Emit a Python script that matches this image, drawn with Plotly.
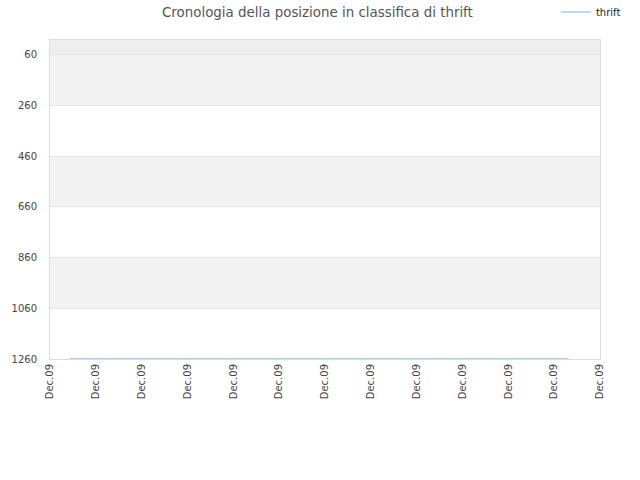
import plotly.graph_objects as go

# daily rank history of "thrift" (all in December 2009)
dates = ['2009-12-01 10:30', '2009-12-03 12:00', '2009-12-05 12:00',
         '2009-12-07 12:00', '2009-12-09 12:00', '2009-12-11 12:00',
         '2009-12-12 07:30']
ranks = [1259, 1259, 1259, 1259, 1259, 1259, 1259]

y_ticks = [60, 260, 460, 660, 860, 1060, 1260]
x_ticks = ['2009-12-%02d' % d for d in range(1, 14)]
x_labels = ['Dec.09'] * len(x_ticks)

fig = go.Figure()
fig.add_trace(go.Scatter(x=dates, y=ranks, mode='lines', name='thrift',
                         line=dict(color='#a6cbef', width=1.5)))

# alternating horizontal bands behind the plot
shapes = [dict(type='rect', xref='paper', yref='y', x0=0, x1=1, y0=1, y1=60,
               fillcolor='#eeeeee', line_width=0, layer='below')]
for i in range(len(y_ticks) - 1):
    if i % 2 == 0:
        shapes.append(dict(type='rect', xref='paper', yref='y', x0=0, x1=1,
                           y0=y_ticks[i], y1=y_ticks[i + 1],
                           fillcolor='#f3f3f3', line_width=0, layer='below'))

fig.update_layout(
    width=640, height=480,
    title=dict(text='Cronologia della posizione in classifica di thrift',
               x=0.496, xanchor='center', y=0.975, yanchor='middle',
               font=dict(family='DejaVu Sans', size=13.4, color='#555555')),
    font=dict(family='DejaVu Sans', size=10, color='#444444'),
    paper_bgcolor='white', plot_bgcolor='white',
    margin=dict(l=50, r=40, t=40, b=121, autoexpand=False),
    shapes=shapes,
    showlegend=True,
    legend=dict(xref='container', yref='container', x=0.978, y=0.975,
                xanchor='right', yanchor='middle',
                font=dict(size=10, color='#222222'), bgcolor='rgba(0,0,0,0)',
                itemwidth=30),
    xaxis=dict(type='date', range=['2009-12-01', '2009-12-13'],
               tickvals=x_ticks, ticktext=x_labels, tickangle=-90,
               showgrid=False, showline=True, linecolor='#dddddd',
               mirror=True, ticks='', zeroline=False, automargin=False),
    yaxis=dict(range=[1260, 1], tickvals=y_ticks, showgrid=True,
               gridcolor='#e4e4e4', showline=True, linecolor='#dddddd',
               mirror=True, ticks='', zeroline=False, ticklabelstandoff=10,
               automargin=False),
)

# drop the browser's default page margin so the figure sits at (0, 0)
fig.write_html('out.html', config={'displayModeBar': False},
               post_script="document.body.style.margin = '0';")
